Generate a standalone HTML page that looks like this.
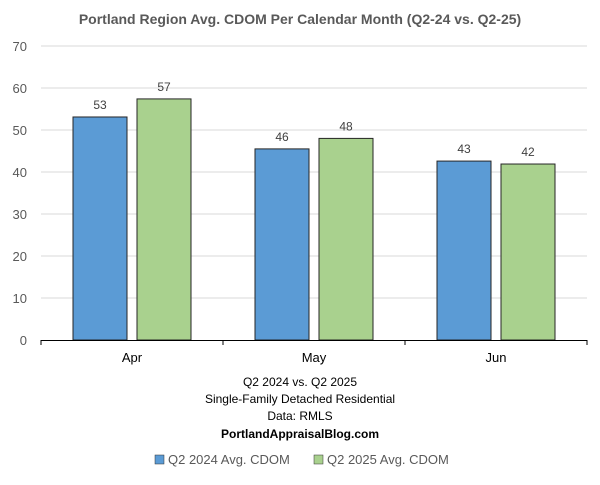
<!DOCTYPE html>
<html><head><meta charset="utf-8"><style>
body{margin:0;background:#fff;font-family:"Liberation Sans",sans-serif}
</style></head><body>
<svg id="c" width="600" height="480" font-family="Liberation Sans, sans-serif">
<text x="300" y="24" text-anchor="middle" font-size="14" font-weight="bold" fill="#595959">Portland Region Avg. CDOM Per Calendar Month (Q2-24 vs. Q2-25)</text>
<g id="grid"></g><g id="bars"></g><g id="axes"></g>
<text x="300" y="386" text-anchor="middle" font-size="12" fill="#000">Q2 2024 vs. Q2 2025</text>
<text x="300" y="403" text-anchor="middle" font-size="12" fill="#000">Single-Family Detached Residential</text>
<text x="300" y="420" text-anchor="middle" font-size="12" fill="#000">Data: RMLS</text>
<text x="300" y="438" text-anchor="middle" font-size="12" font-weight="bold" fill="#000">PortlandAppraisalBlog.com</text>
<g>
<rect x="155" y="455" width="9" height="9" fill="#5b9bd5" stroke="#333" stroke-width="0.5"/>
<text x="168" y="464" font-size="13" fill="#595959">Q2 2024 Avg. CDOM</text>
<rect x="314" y="455" width="9" height="9" fill="#a9d18e" stroke="#333" stroke-width="0.5"/>
<text x="327" y="464" font-size="13" fill="#595959">Q2 2025 Avg. CDOM</text>
</g>
</svg>
<script>
const categories=["Apr","May","Jun"];
const series2024=[53.1,45.5,42.6];
const series2025=[57.4,48.0,41.9];
const yTicks=[0,10,20,30,40,50,60,70];
const NS="http://www.w3.org/2000/svg";
const L=41,R=587,T=46,B=340,YMAX=70;
const y=v=>B-(v/YMAX)*(B-T);
const cw=(R-L)/categories.length;
const cx=i=>L+cw*(i+0.5);
function mk(t,a,p){const e=document.createElementNS(NS,t);for(const k in a)e.setAttribute(k,a[k]);p.appendChild(e);return e;}
const g=document.getElementById('grid'),bg=document.getElementById('bars'),ax=document.getElementById('axes');
yTicks.forEach(v=>{
 if(v>0){const l=mk('line',{x1:L,x2:R,y1:y(v),y2:y(v),stroke:'#d9d9d9','stroke-width':1},g);
 
 }
 const t=mk('text',{x:27,y:y(v)+5,'text-anchor':'end','font-size':13,fill:'#595959'},ax);t.textContent=v;
 
 
});
const bw=54,gap=10;
[[series2024,'#5b9bd5',-1],[series2025,'#a9d18e',1]].forEach(([s,c,d],si)=>{
 s.forEach((v,i)=>{
  const x=d<0?cx(i)-gap/2-bw:cx(i)+gap/2;
  const r=mk('rect',{x:x,y:y(v),width:bw,height:B-y(v),fill:c,stroke:'#262626','stroke-width':1},bg);
  
  
  const t=mk('text',{x:x+bw/2,y:y(v)-8,'text-anchor':'middle','font-size':12,fill:'#404040'},bg);t.textContent=Math.round(v);
  
  
 });
});
const al=mk('line',{x1:L,x2:R,y1:B+0.5,y2:B+0.5,stroke:'#000','stroke-width':1},ax);


for(let i=0;i<=categories.length;i++){const tk=mk('line',{x1:L+cw*i,x2:L+cw*i,y1:B,y2:B+5,stroke:'#000'},ax);
 
 }
categories.forEach((c,i)=>{const t=mk('text',{x:cx(i),y:B+22,'text-anchor':'middle','font-size':13,fill:'#000'},ax);t.textContent=c;
 
 });
</script>
</body></html>
